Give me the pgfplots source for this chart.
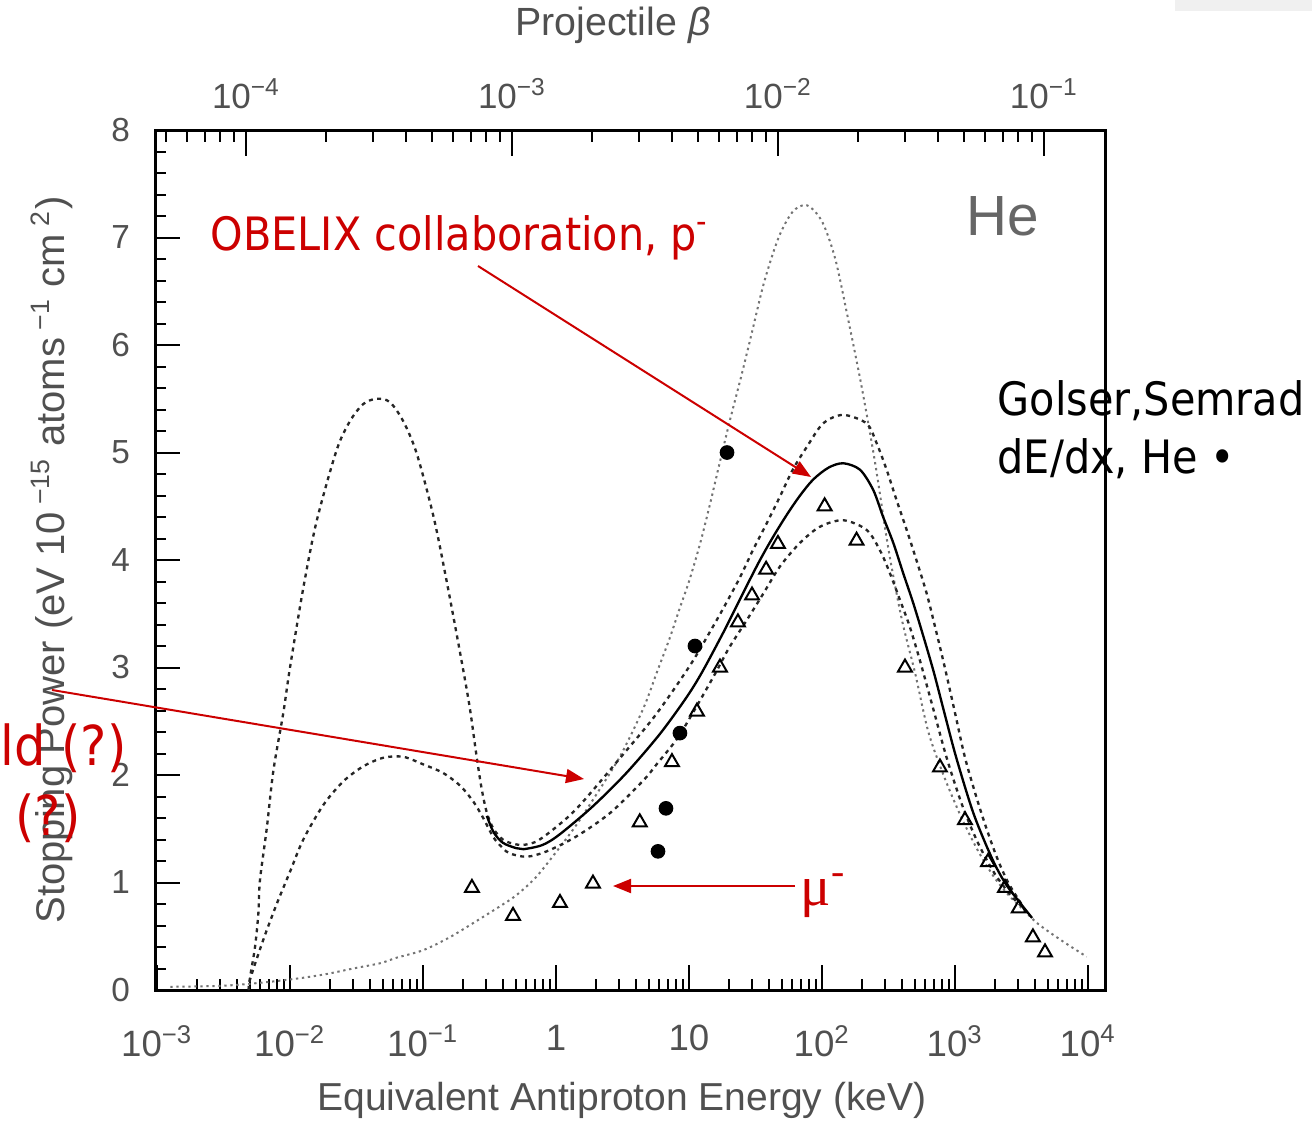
\documentclass[border=0pt]{standalone}
\usepackage{fontspec}
\setmainfont{Liberation Sans}
\newfontfamily\annot[FakeStretch=0.9]{DejaVu Sans}
\newfontfamily\serifmu{Liberation Serif}
\usepackage{pgfplots}
\usepackage{pgfplotstable}
\pgfplotsset{compat=1.18}
\usetikzlibrary{arrows.meta}
\definecolor{annred}{RGB}{204,0,0}
\definecolor{scantext}{RGB}{80,80,80}

% x = log10(E/keV), y = stopping power
\pgfplotstableread{
x y
-2.90 0.03
-2.50 0.04
-2.20 0.07
-1.925 0.11
-1.72 0.15
-1.526 0.20
-1.32 0.25
-1.20 0.30
-1.00 0.37
-0.80 0.49
-0.60 0.64
-0.42 0.78
-0.30 0.88
-0.15 1.05
0.03 1.33
0.15 1.53
0.278 1.77
0.48 2.17
0.657 2.62
0.757 2.95
0.857 3.28
0.93 3.55
1.00 3.80
1.083 4.15
1.158 4.52
1.23 4.90
1.308 5.30
1.395 5.72
1.47 6.10
1.564 6.58
1.674 7.00
1.78 7.24
1.887 7.30
2.00 7.15
2.10 6.80
2.20 6.22
2.30 5.60
2.40 4.90
2.50 4.10
2.60 3.45
2.70 2.95
2.80 2.40
2.92 1.98
3.05 1.60
3.18 1.28
3.30 1.04
3.42 0.86
3.52 0.74
3.62 0.62
3.79 0.47
3.99 0.31
}\curveTall

\pgfplotstableread{
x y
-2.31 0.00
-2.30 0.12
-2.263 0.40
-2.238 0.71
-2.226 1.02
-2.175 1.50
-2.125 2.04
-2.05 2.58
-2.00 3.00
-1.90 3.74
-1.80 4.36
-1.65 5.02
-1.55 5.29
-1.45 5.45
-1.35 5.50
-1.25 5.47
-1.148 5.29
-1.047 4.99
-0.92 4.40
-0.82 3.79
-0.72 3.13
-0.65 2.64
-0.60 2.20
-0.56 1.88
-0.52 1.65
-0.47 1.50
-0.40 1.40
-0.32 1.36
-0.245 1.35
-0.15 1.38
-0.045 1.47
0.10 1.62
0.223 1.78
0.49 2.17
0.75 2.56
1.008 3.02
1.18 3.38
1.28 3.60
1.384 3.84
1.48 4.09
1.584 4.34
1.684 4.59
1.78 4.84
1.885 5.05
2.008 5.27
2.158 5.35
2.336 5.27
2.41 5.09
2.486 4.84
2.56 4.56
2.637 4.28
2.71 4.00
2.787 3.69
2.85 3.38
2.92 3.02
3.00 2.58
3.08 2.14
3.20 1.64
3.31 1.25
3.40 1.00
3.50 0.80
}\curveUpper

\pgfplotstableread{
x y
-2.31 0.00
-2.30 0.10
-2.20 0.47
-2.10 0.80
-2.00 1.10
-1.90 1.40
-1.75 1.72
-1.60 1.94
-1.45 2.08
-1.30 2.16
-1.15 2.17
-1.00 2.10
-0.85 2.02
-0.72 1.90
-0.62 1.75
-0.547 1.60
-0.47 1.42
-0.40 1.32
-0.346 1.27
-0.22 1.24
-0.07 1.29
0.155 1.43
0.41 1.65
0.657 1.95
0.757 2.10
0.906 2.33
1.03 2.58
1.20 2.95
1.30 3.18
1.434 3.44
1.56 3.69
1.684 3.94
1.835 4.16
1.985 4.31
2.16 4.37
2.336 4.28
2.436 4.09
2.51 3.88
2.586 3.63
2.66 3.38
2.74 3.05
2.84 2.60
2.94 2.15
3.06 1.70
3.18 1.35
3.30 1.08
3.42 0.88
3.50 0.78
}\curveLower

\pgfplotstableread{
x y
-0.52 1.62
-0.47 1.47
-0.40 1.37
-0.30 1.32
-0.245 1.31
-0.10 1.35
0.03 1.45
0.278 1.71
0.53 2.02
0.78 2.38
0.98 2.72
1.10 2.96
1.26 3.33
1.333 3.51
1.434 3.76
1.534 4.00
1.63 4.21
1.735 4.42
1.835 4.60
1.935 4.75
2.05 4.86
2.16 4.90
2.286 4.84
2.386 4.65
2.46 4.40
2.536 4.16
2.61 3.88
2.686 3.60
2.76 3.30
2.84 2.96
2.92 2.58
3.01 2.16
3.14 1.64
3.28 1.22
3.38 0.99
3.49 0.81
3.58 0.67
}\curveSolid

\pgfplotstableread{
x y
-0.632 0.95
-0.323 0.69
0.03 0.81
0.278 0.99
0.63 1.56
0.872 2.12
1.06 2.59
1.233 3.00
1.368 3.42
1.474 3.67
1.58 3.91
1.669 4.15
2.02 4.50
2.26 4.18
2.624 3.00
2.887 2.07
3.075 1.58
3.248 1.19
3.376 0.95
3.48 0.76
3.586 0.49
3.677 0.35
}\muondata

\pgfplotstableread{
x y
1.286 5.00
1.045 3.20
0.932 2.39
0.827 1.69
0.767 1.29
}\golserdata

\begin{document}
\begin{tikzpicture}[x=0.3pt,y=0.3pt]
\useasboundingbox (0,0) rectangle (1312,1121);
\fill[black!6] (1175,1110) rectangle (1312,1121);

\begin{axis}[
  at={(46.5pt,39.3pt)}, anchor=south west,
  scale only axis, width=285pt, height=258pt,
  xmin=-3.015, xmax=4.128, ymin=0, ymax=8,
  xtick={-3,-2,-1,0,1,2,3,4},
  xticklabels={10\textsuperscript{−3},10\textsuperscript{−2},10\textsuperscript{−1},1,10,10\textsuperscript{2},10\textsuperscript{3},10\textsuperscript{4}},
  minor xtick={-2.69897,-2.52288,-2.39794,-2.30103,-2.22185,-2.15490,-2.09691,-2.04576,
    -1.69897,-1.52288,-1.39794,-1.30103,-1.22185,-1.15490,-1.09691,-1.04576,
    -0.69897,-0.52288,-0.39794,-0.30103,-0.22185,-0.15490,-0.09691,-0.04576,
    0.30103,0.47712,0.60206,0.69897,0.77815,0.84510,0.90309,0.95424,
    1.30103,1.47712,1.60206,1.69897,1.77815,1.84510,1.90309,1.95424,
    2.30103,2.47712,2.60206,2.69897,2.77815,2.84510,2.90309,2.95424,
    3.30103,3.47712,3.60206,3.69897,3.77815,3.84510,3.90309,3.95424},
  ytick={0,1,2,3,4,5,6,7,8},
  yticklabels={0,1,2,3,4,5,6,7,8},
  minor y tick num=4,
  xtick pos=left, ytick pos=left,
  tick align=inside,
  major tick length=7.5pt, minor tick length=3.4pt,
  every tick/.style={black, line width=0.6pt},
  axis line style={line width=0.9pt},
  xticklabel style={font=\fontsize{11}{13}\selectfont, text=scantext, yshift=-7pt},
  yticklabel style={font=\fontsize{10}{12}\selectfont, text=scantext, xshift=-4pt},
]
\addplot[smooth, black!55, line width=0.6pt, dash pattern=on 0.7pt off 1.1pt] table[x=x,y=y]{\curveTall};
\addplot[smooth, black!85, line width=0.7pt, dash pattern=on 1.2pt off 1.3pt] table[x=x,y=y]{\curveUpper};
\addplot[smooth, black!85, line width=0.7pt, dash pattern=on 1.2pt off 1.3pt] table[x=x,y=y]{\curveLower};
\addplot[smooth, black, line width=0.7pt] table[x=x,y=y]{\curveSolid};
\addplot[only marks, mark=triangle, mark size=2.4pt, mark options={black, line width=0.6pt, fill=white}] table[x=x,y=y]{\muondata};
\addplot[only marks, mark=*, mark size=2.0pt, mark options={black}] table[x=x,y=y]{\golserdata};
\end{axis}

\begin{axis}[
  at={(46.5pt,39.3pt)}, anchor=south west,
  scale only axis, width=285pt, height=258pt,
  xmin=-4.3431, xmax=-0.7716, ymin=0, ymax=8,
  axis x line*=top, axis y line=none,
  xtick={-4,-3,-2,-1},
  xticklabels={10\textsuperscript{−4},10\textsuperscript{−3},10\textsuperscript{−2},10\textsuperscript{−1}},
  minor xtick={-4.30103,-4.22185,-4.15490,-4.09691,-4.04576,
    -3.69897,-3.52288,-3.39794,-3.30103,-3.22185,-3.15490,-3.09691,-3.04576,
    -2.69897,-2.52288,-2.39794,-2.30103,-2.22185,-2.15490,-2.09691,-2.04576,
    -1.69897,-1.52288,-1.39794,-1.30103,-1.22185,-1.15490,-1.09691,-1.04576},
  tick align=inside,
  major tick length=7.8pt, minor tick length=3.6pt,
  every tick/.style={black, line width=0.6pt},
  axis line style={line width=0.9pt},
  xticklabel style={font=\fontsize{10.5}{12}\selectfont, text=scantext, yshift=2.7pt},
]
\addplot[draw=none] coordinates {(-4,0)};
\end{axis}

% axis titles
\node[text=scantext, font=\fontsize{11.8}{14}\selectfont] at (613,1096) {Projectile \textit{β}};
\node[text=scantext, font=\fontsize{11.7}{14}\selectfont] at (622,21) {Equivalent Antiproton Energy (keV)};
\node[text=scantext, rotate=90, font=\fontsize{12}{14}\selectfont] at (52,561)
  {Stopping Power (eV 10\textsuperscript{ −15} atoms\textsuperscript{ −1} cm\textsuperscript{ 2})};
\node[text=black!60, font=\fontsize{17}{20}\selectfont, anchor=base west, inner sep=0pt] at (966,886) {He};

% annotations
\node[text=annred, font=\annot\fontsize{13.8}{16}\selectfont, anchor=base west, inner sep=0pt] at (210,871)
  {OBELIX collaboration, p\textsuperscript{-}};
\node[text=black, font=\annot\fontsize{13.8}{16}\selectfont, anchor=base west, inner sep=0pt] at (997,706) {Golser,Semrad};
\node[text=black, font=\annot\fontsize{13.8}{16}\selectfont, anchor=base west, inner sep=0pt] at (997,648) {dE/dx, He •};
\node[text=annred, font=\annot\fontsize{16.5}{19}\selectfont, anchor=base west, inner sep=0pt] at (0,356) {ld (?)};
\node[text=annred, font=\annot\fontsize{16.5}{19}\selectfont, anchor=base west, inner sep=0pt] at (15,286) {(?)};
\node[text=annred, font=\serifmu\fontsize{17}{20}\selectfont, anchor=base west, inner sep=0pt] at (800,216) {μ\textsuperscript{-}};

\draw[annred, line width=0.6pt, -{Triangle[length=5.4pt,width=4.2pt]}] (478,855) -- (811,644);
\draw[annred, line width=0.6pt, -{Triangle[length=5.4pt,width=4.2pt]}] (52,431) -- (584,342);
\draw[annred, line width=0.6pt, -{Triangle[length=5.4pt,width=4.2pt]}] (795,235) -- (613,235);
\end{tikzpicture}
\end{document}
